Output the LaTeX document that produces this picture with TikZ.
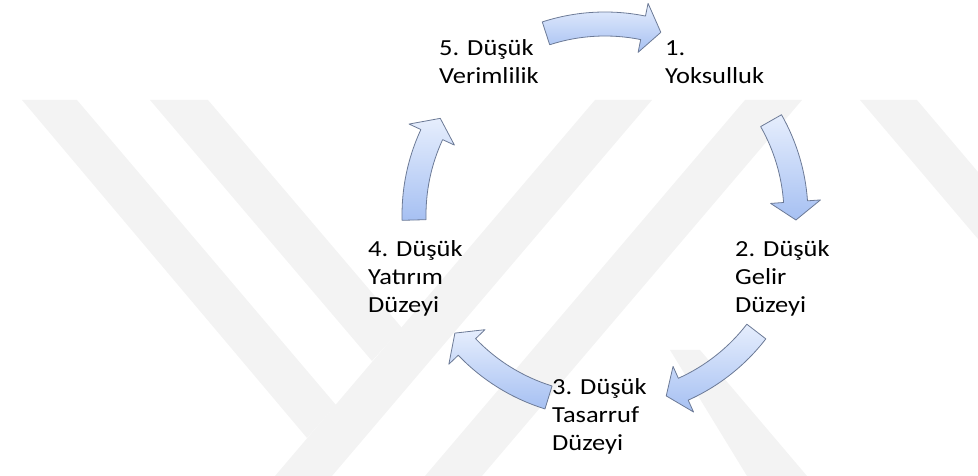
\documentclass[tikz,border=0pt]{standalone}
\usepackage{fontspec}
\newfontfamily\labelfont[FakeStretch=1.15]{Carlito}
\usetikzlibrary{positioning}
\definecolor{arrowtop}{RGB}{230,238,253}
\definecolor{arrowbot}{RGB}{166,192,242}
\definecolor{arrowline}{RGB}{108,122,150}
\definecolor{markgray}{RGB}{243,243,243}
% curved block arrow round the cycle centre: tail angle, tip angle
\newcommand{\cyclearrow}[2]{%
  \path[cycle arrow, shift={(605,261)}]
    (#1:203) arc[start angle=#1, end angle={#2+5.5}, radius=203]
    -- ({#2+5.5}:216) -- (#2:191) -- ({#2+5.5}:166)
    -- ({#2+5.5}:179) arc[start angle={#2+5.5}, end angle=#1, radius=179]
    -- cycle;}
\begin{document}
\begin{tikzpicture}[x=1pt, y=1pt,
    label text/.style={anchor=base west, align=left, inner sep=0pt,
      font=\labelfont\fontsize{23}{28}\selectfont},
    cycle arrow/.style={draw=arrowline, line width=0.8pt, line join=round,
      top color=arrowtop, bottom color=arrowbot}]
\useasboundingbox (0,0) rectangle (978,476);
% watermark
\fill[markgray] (595,376) -- (652,376) -- (332,0) -- (275,0) -- cycle;
\fill[markgray] (745,376) -- (802,376) -- (482,0) -- (425,0) -- cycle;
\fill[markgray] (22,376) -- (77,376) -- (336,71) -- (307,38) -- cycle;
\fill[markgray] (150,376) -- (208,376) -- (402,148) -- (372,115) -- cycle;
\fill[markgray] (860,376) -- (917,376) -- (978,304) -- (978,237) -- cycle;
\fill[markgray] (670,126) -- (700,126) -- (807,0) -- (747,0) -- cycle;
% labels (anchored on the last line)
\node[label text] (poverty) at (665,392) {1.\\Yoksulluk};
\node[label text] (income) at (735,163) {2. Düşük\\Gelir\\Düzeyi};
\node[label text] (saving) at (552,25) {3. Düşük\\Tasarruf\\Düzeyi};
\node[label text] (invest) at (368,163) {4. Düşük\\Yatırım\\Düzeyi};
\node[label text] (product) at (439,392) {5. Düşük\\Verimlilik};
% arrows
\cyclearrow{108}{73}
\cyclearrow{29.6}{-1.5}
\cyclearrow{-37.6}{-71.3}
\cyclearrow{-107.2}{-141.8}
\cyclearrow{181.5}{149.6}
\end{tikzpicture}
\end{document}
